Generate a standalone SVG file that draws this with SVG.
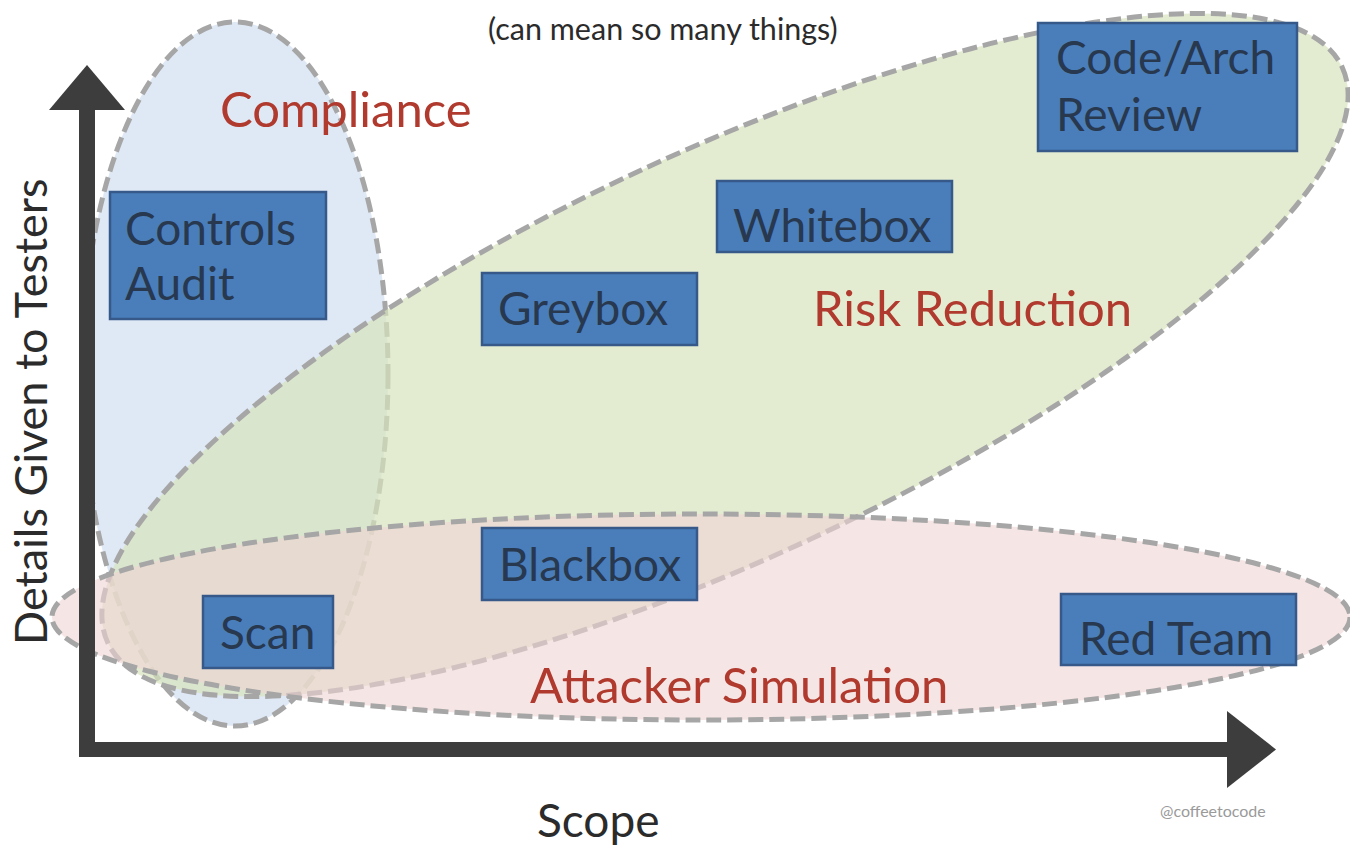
<svg xmlns="http://www.w3.org/2000/svg" width="1350" height="846" viewBox="0 0 1350 846">
<style>
.region{stroke:#a6a6a6;stroke-width:5;stroke-dasharray:15 6}
.box{fill:#4a7ebb;stroke:#36598a;stroke-width:2.5}
.bt{font-family:Lato,"Open Sans",sans-serif;font-size:46px;fill:#27384f}
.lbl{font-family:Lato,"Open Sans",sans-serif;font-size:49px;fill:#b03a2e}
.ax{fill:#3d3d3d}
.cap{font-family:Lato,"Open Sans",sans-serif;fill:#2b2b2b}
</style>
<rect width="1350" height="846" fill="#ffffff"/>
<g id="regions">
<g id="compliance-region"><ellipse class="region" cx="235" cy="374" rx="153" ry="352" fill="#c5d6ec" fill-opacity="0.55"/></g>
<g id="risk-region"><ellipse class="region" cx="725" cy="355" rx="681" ry="203" transform="rotate(-25 725 355)" fill="#d7e4bd" fill-opacity="0.7"/></g>
<g id="attacker-region"><ellipse class="region" cx="701" cy="617" rx="649" ry="103" fill="#f0d4d3" fill-opacity="0.6"/></g>
</g>
<g id="axes">
<rect class="ax" x="79" y="108" width="16" height="649"/>
<rect class="ax" x="79" y="742" width="1150" height="15"/>
<polygon class="ax" points="87,65 125,110 49,110"/>
<polygon class="ax" points="1276,749.5 1227,711 1227,788"/>
</g>
<g id="labels">
<text class="cap" x="488" y="40" font-size="30.5">(can mean so many things)</text>
<text class="lbl" x="220" y="127">Compliance</text>
<text class="lbl" x="813" y="326" font-size="48">Risk Reduction</text>
<text class="lbl" x="530" y="703" font-size="48.5">Attacker Simulation</text>
<text class="cap" x="537" y="837" font-size="46" fill="#333333">Scope</text>
<text class="cap" transform="translate(47 645) rotate(-90)" x="0" y="0" font-size="45" fill="#333333">Details Given to Testers</text>
<text x="1160" y="817" font-family="Lato,'Open Sans',sans-serif" font-size="16" fill="#9a9a9a">@coffeetocode</text>
</g>
<g id="node-controls-audit"><rect class="box" x="110" y="192" width="216" height="127"/><text class="bt" x="125" y="245">Controls</text><text class="bt" x="125" y="300">Audit</text></g>
<g id="node-code-arch-review"><rect class="box" x="1038" y="23" width="259" height="128"/><text class="bt" x="1056" y="74">Code/Arch</text><text class="bt" x="1056" y="131">Review</text></g>
<g id="node-whitebox"><rect class="box" x="717" y="181" width="235" height="71"/><text class="bt" x="733" y="242">Whitebox</text></g>
<g id="node-greybox"><rect class="box" x="482" y="273" width="215" height="72"/><text class="bt" x="498" y="325">Greybox</text></g>
<g id="node-blackbox"><rect class="box" x="482" y="528" width="215" height="72"/><text class="bt" x="499" y="581">Blackbox</text></g>
<g id="node-scan"><rect class="box" x="203" y="596" width="130" height="72"/><text class="bt" x="220" y="649">Scan</text></g>
<g id="node-red-team"><rect class="box" x="1061" y="594" width="235" height="71"/><text class="bt" x="1079" y="655">Red Team</text></g>
</svg>
